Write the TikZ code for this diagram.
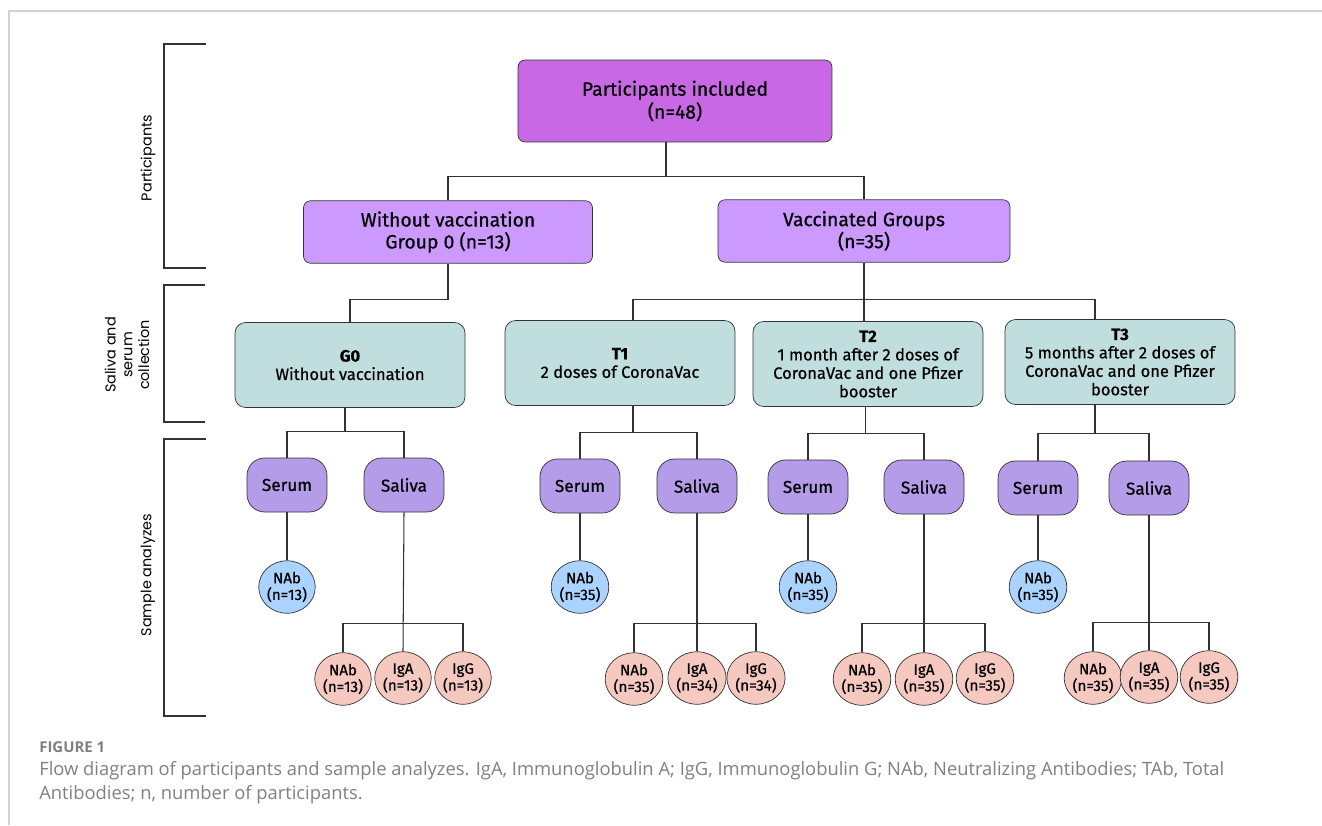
\documentclass[tikz,border=0pt]{standalone}
\usepackage{fontspec}
\setmainfont{Fira Sans}
\newfontfamily\boxfont[FakeBold=0.6]{Fira Sans}
\newfontfamily\sidefont{Poppins}
\newfontfamily\capfont{Open Sans}
\usepackage{tikz}
\usetikzlibrary{shapes.geometric}
\definecolor{rootViolet}{HTML}{C968E4}
\definecolor{groupViolet}{HTML}{CC99FF}
\definecolor{timeTeal}{HTML}{C0DEDD}
\definecolor{sampleLilac}{HTML}{B49CE9}
\definecolor{serumBlue}{HTML}{AAD4FF}
\definecolor{salivaPink}{HTML}{F5C9C0}
\definecolor{lineGray}{HTML}{333333}
\definecolor{frameGray}{HTML}{D2D2D2}
\definecolor{captionGray}{HTML}{808080}

\begin{document}
\begin{tikzpicture}[
  x=0.02cm, y=-0.02cm,
  link/.style={draw=lineGray, line width=0.6pt},
  bracket/.style={draw=lineGray, line width=0.7pt},
  frame/.style={draw=frameGray, line width=0.9pt},
  root/.style={draw=lineGray, fill=rootViolet, rounded corners=4pt,
               minimum width=6.28cm, minimum height=1.64cm, align=center,
               font=\boxfont\fontsize{11}{13}\selectfont},
  group/.style={draw=lineGray, fill=groupViolet, rounded corners=4pt,
                minimum height=1.25cm, align=center,
                font=\boxfont\fontsize{11}{12.5}\selectfont},
  timepoint/.style={draw=lineGray, fill=timeTeal, rounded corners=6pt,
                    minimum width=4.6cm, minimum height=1.7cm, align=center,
                    font=\boxfont\fontsize{9.4}{10.5}\selectfont},
  sample/.style={draw=lineGray, fill=sampleLilac, rounded corners=10pt,
                 minimum width=1.6cm, minimum height=1.08cm,
                 font=\boxfont\fontsize{9.8}{11}\selectfont},
  assay/.style={draw=lineGray, ellipse, inner sep=0pt, align=center,
                minimum width=1.12cm, minimum height=1.05cm,
                font=\boxfont\fontsize{8.6}{9.5}\selectfont},
  serum/.style={assay, fill=serumBlue},
  saliva/.style={assay, fill=salivaPink},
  phase/.style={rotate=90, align=center, font=\sidefont\fontsize{8.2}{9.5}\selectfont}
]
  \useasboundingbox (0,0) rectangle (1322,825);
  \draw[frame] (9,825) -- (9,11) -- (1322,11);

  % phases
  \draw[bracket] (206,44) -| (164,268) -- (206,268);
  \draw[bracket] (205,285) -| (164,422) -- (205,422);
  \draw[bracket] (206,439) -| (164,716) -- (206,716);
  \node[phase] (phaseParticipants) at (148,158) {Participants};
  \node[phase] (phaseCollection) at (127,355) {Saliva and\\serum\\collection};
  \node[phase] (phaseAnalyses) at (148,575) {Sample analyzes};

  % participants and groups
  \node[root] (included) at (675,101) {Participants included\\(n=48)};
  \node[group, minimum width=5.78cm] (unvaccinated) at (448,232) {Without vaccination\\Group 0 (n=13)};
  \node[group, minimum width=5.84cm] (vaccinated) at (864,231) {Vaccinated Groups\\(n=35)};

  % time points
  \node[timepoint] (g0) at (350,365) {\textbf{G0}\\Without vaccination};
  \node[timepoint] (t1) at (620,363) {\textbf{T1}\\2 doses of CoronaVac};
  \node[timepoint] (t2) at (868,364) {\textbf{T2}\\1 month after 2 doses of\\CoronaVac and one Pfizer\\booster};
  \node[timepoint] (t3) at (1120,362) {\textbf{T3}\\5 months after 2 doses of\\CoronaVac and one Pfizer\\booster};

  % samples G0
  \node[sample] (serumG0) at (287,485) {Serum};
  \node[sample] (salivaG0) at (404,485) {Saliva};
  \node[serum] (nabG0) at (287,587) {NAb\\(n=13)};
  \node[saliva] (snabG0) at (343,679) {NAb\\(n=13)};
  \node[saliva] (igaG0) at (403,678) {IgA\\(n=13)};
  \node[saliva] (iggG0) at (463,678) {IgG\\(n=13)};

  % samples T1
  \node[sample] (serumT1) at (580,486) {Serum};
  \node[sample] (salivaT1) at (697,486) {Saliva};
  \node[serum] (nabT1) at (580,587) {NAb\\(n=35)};
  \node[saliva] (snabT1) at (634,679) {NAb\\(n=35)};
  \node[saliva] (igaT1) at (697,678) {IgA\\(n=34)};
  \node[saliva] (iggT1) at (756,678) {IgG\\(n=34)};

  % samples T2
  \node[sample] (serumT2) at (808,487) {Serum};
  \node[sample] (salivaT2) at (924,487) {Saliva};
  \node[serum] (nabT2) at (808,587) {NAb\\(n=35)};
  \node[saliva] (snabT2) at (862,679) {NAb\\(n=35)};
  \node[saliva] (igaT2) at (924,679) {IgA\\(n=35)};
  \node[saliva] (iggT2) at (985,678) {IgG\\(n=35)};

  % samples T3
  \node[sample] (serumT3) at (1038,488) {Serum};
  \node[sample] (salivaT3) at (1149,488) {Saliva};
  \node[serum] (nabT3) at (1038,587) {NAb\\(n=35)};
  \node[saliva] (snabT3) at (1093,678) {NAb\\(n=35)};
  \node[saliva] (igaT3) at (1149,677) {IgA\\(n=35)};
  \node[saliva] (iggT3) at (1209,677) {IgG\\(n=35)};

  % tree lines
  \draw[link] ([xshift=-0.18cm]included.south) -- ++(0,34) coordinate (rootbus);
  \draw[link] (unvaccinated.north) |- (rootbus) -| (vaccinated.north);
  \draw[link] (unvaccinated.south) -- ++(0,36) -| (g0.north);
  \draw[link] (vaccinated.south) -- ++(0,37) coordinate (vacbus) -- (vacbus |- t2.north);
  \draw[link] ([xshift=0.26cm]t1.north) |- (vacbus) -| ([xshift=-0.5cm]t3.north);

  \draw[link] ([xshift=-0.1cm]g0.south) -- ++(0,24) coordinate (busG0);
  \draw[link] (serumG0.north) |- (busG0) -| (salivaG0.north);
  \draw[link] ([xshift=0.26cm]t1.south) -- ++(0,27) coordinate (busT1);
  \draw[link] (serumT1.north) |- (busT1) -| (salivaT1.north);
  \draw[link] ([xshift=-0.05cm]t2.south) -- ++(0,27) coordinate (busT2);
  \draw[link] (serumT2.north) |- (busT2) -| (salivaT2.north);
  \draw[link] ([xshift=-0.5cm]t3.south) -- ++(0,29) coordinate (busT3);
  \draw[link] (serumT3.north) |- (busT3) -| (salivaT3.north);

  \draw[link] (serumG0.south) -- (nabG0.north);
  \draw[link] (salivaG0.south) -- (igaG0.north);
  \draw[link] (snabG0.north) -- ++(0,-29) -| (iggG0.north);
  \draw[link] (serumT1.south) -- (nabT1.north);
  \draw[link] (salivaT1.south) -- (igaT1.north);
  \draw[link] (snabT1.north) -- ++(0,-29) -| (iggT1.north);
  \draw[link] (serumT2.south) -- (nabT2.north);
  \draw[link] (salivaT2.south) -- (igaT2.north);
  \draw[link] (snabT2.north) -- ++(0,-29) -| (iggT2.north);
  \draw[link] (serumT3.south) -- (nabT3.north);
  \draw[link] (salivaT3.south) -- (igaT3.north);
  \draw[link] (snabT3.north) -- ++(0,-29) -| (iggT3.north);

  % caption
  \node[anchor=base west, inner sep=0pt, text=captionGray, font=\capfont\bfseries\fontsize{8.5}{10}\selectfont]
    (figlabel) at (39,752) {FIGURE 1};
  \node[anchor=base west, inner sep=0pt, text=captionGray, font=\capfont\fontsize{10.45}{13}\selectfont]
    (figcaption) at (39,775) {Flow diagram of participants and sample analyzes. IgA, Immunoglobulin A; IgG, Immunoglobulin G; NAb, Neutralizing Antibodies; TAb, Total};
  \node[anchor=base west, inner sep=0pt, text=captionGray, font=\capfont\fontsize{10.45}{13}\selectfont]
    (figcaptiontail) at (39,799) {Antibodies; n, number of participants.};
\end{tikzpicture}
\end{document}
